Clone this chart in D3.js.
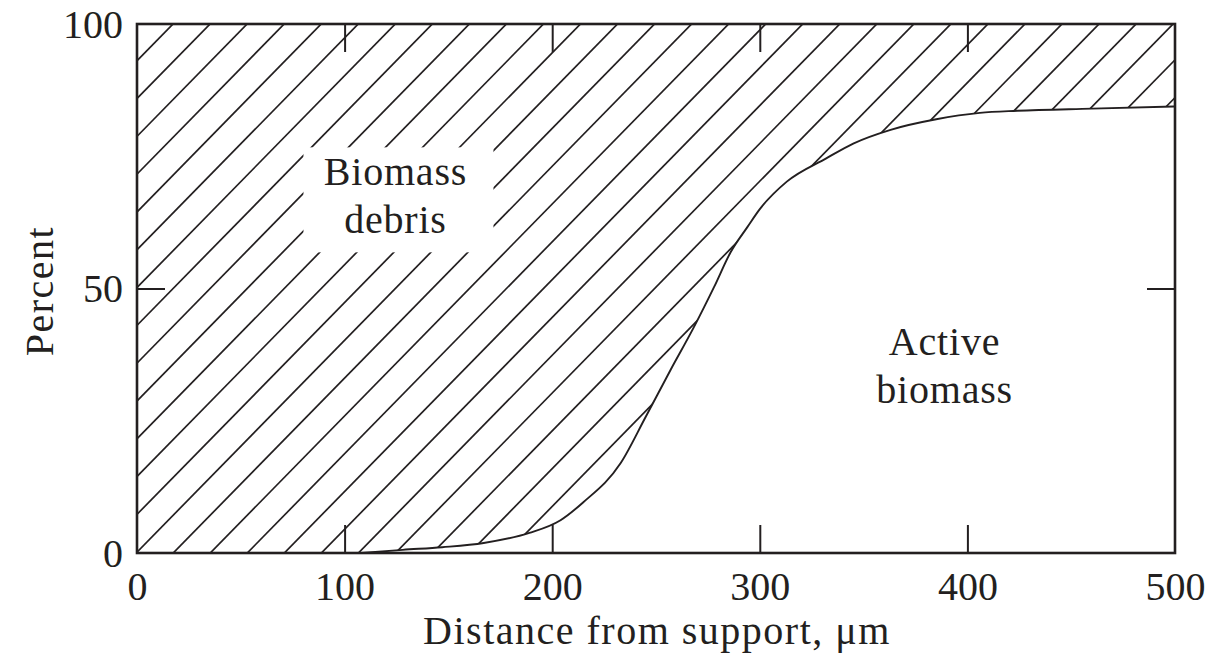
<!DOCTYPE html>
<html>
<head>
<meta charset="utf-8">
<script src="https://cdn.jsdelivr.net/npm/d3@7"></script>
<style>
  html, body { margin: 0; padding: 0; background: #fff; }
  svg { display: block; }
  text { font-family: "Liberation Serif", "Times New Roman", serif; fill: #231f20; }
</style>
</head>
<body>
<div id="chart"></div>
<script>
// boundary between biomass debris (above) and active biomass (below), percent
const distance = [108, 128, 147, 167, 189, 204, 215, 233, 245, 257, 268, 278, 286, 294, 300, 313, 332, 345, 363, 385, 406, 424, 460, 500];
const activePct = [0, 0.6, 1.1, 1.9, 3.8, 6.2, 9.6, 17, 25.7, 34.6, 42.5, 50.3, 56.9, 61.6, 65, 70.2, 74.6, 77.4, 80, 82, 83.2, 83.6, 84, 84.4];

const xTicks = [0, 100, 200, 300, 400, 500];
const yTicks = [0, 50, 100];
const innerXTicks = [100, 200, 300, 400];
const innerYTicks = [50];

const labels = [
    { lines: ['Biomass', 'debris'], x: 124.5, y: 69.5, box: true },
    { lines: ['Active', 'biomass'], x: 389, y: 37.5, box: false }
];

const W = 1229, H = 653;
const M = { top: 24, right: 54, bottom: 100, left: 137 };
const iW = W - M.left - M.right;
const iH = H - M.top - M.bottom;
const INK = '#231f20';
const FONT = 40;
const TICK = 28;

const x = d3.scaleLinear().domain([0, 500]).range([0, iW]);
const y = d3.scaleLinear().domain([0, 100]).range([iH, 0]);

const svg = d3.select('#chart').append('svg')
    .attr('width', W)
    .attr('height', H);

const g = svg.append('g').attr('transform', `translate(${M.left},${M.top})`);

// ── hatched debris region ───────────────────────────────────────────────────

const pts = [{ d: 0, p: 0 }].concat(distance.map((d, i) => ({ d, p: activePct[i] })));

const area = d3.area()
    .x(d => x(d.d))
    .y0(d => y(d.p))
    .y1(y(100))
    .curve(d3.curveMonotoneX);

svg.append('defs').append('clipPath')
    .attr('id', 'debrisClip')
    .append('path')
    .datum(pts)
    .attr('d', area);

// hatch lines: x/hx + y/hy = phase + k (in page pixels)
const hx = 37.04, hy = 37.8, phase = 0.306;
const hatch = g.append('g').attr('clip-path', 'url(#debrisClip)');
d3.range(-2, 50).forEach(k => {
    const c = phase + k;
    const y0 = -M.top, y1 = iH + 10;
    const px0 = (c - (y0 + M.top) / hy) * hx - M.left;
    const px1 = (c - (y1 + M.top) / hy) * hx - M.left;
    hatch.append('line')
        .attr('x1', px0).attr('y1', y0)
        .attr('x2', px1).attr('y2', y1)
        .attr('stroke', INK)
        .attr('stroke-width', 1.7);
});

// boundary curve
const line = d3.line()
    .x(d => x(d.d))
    .y(d => y(d.p))
    .curve(d3.curveMonotoneX);

g.append('path')
    .datum(pts.slice(1))
    .attr('fill', 'none')
    .attr('stroke', INK)
    .attr('stroke-width', 1.9)
    .attr('d', line);

// ── region labels ───────────────────────────────────────────────────────────

labels.forEach(l => {
    const cx = x(l.x), cy = y(l.y);
    if (l.box) {
        g.append('rect')
            .attr('x', cx - 92)
            .attr('y', cy - 38)
            .attr('width', 190)
            .attr('height', 105)
            .attr('fill', '#fff');
    }
    const t = g.append('text')
        .attr('text-anchor', 'middle')
        .attr('font-size', FONT)
        .attr('letter-spacing', '0.8px');
    l.lines.forEach((s, i) => {
        t.append('tspan')
            .attr('x', cx)
            .attr('y', cy + i * 48)
            .text(s);
    });
});

// ── axes ────────────────────────────────────────────────────────────────────

function styleAxis(sel) {
    sel.select('.domain').remove();
    sel.selectAll('.tick line').attr('stroke', INK).attr('stroke-width', 2);
    sel.selectAll('.tick text')
        .attr('font-family', '"Liberation Serif", serif')
        .attr('font-size', FONT)
        .attr('fill', INK);
}

const xAxis = g.append('g')
    .attr('transform', `translate(0,${iH})`)
    .call(d3.axisBottom(x).tickValues(xTicks).tickSize(-TICK).tickFormat(d3.format('d')))
    .call(styleAxis);
xAxis.selectAll('.tick text').attr('y', 47).attr('dy', 0);
xAxis.selectAll('.tick line').filter(d => !innerXTicks.includes(d)).remove();

g.append('g')
    .call(d3.axisTop(x).tickValues(innerXTicks).tickSize(-TICK).tickFormat(''))
    .call(styleAxis);

const yAxis = g.append('g')
    .call(d3.axisLeft(y).tickValues(yTicks).tickSize(-TICK).tickFormat(d3.format('d')))
    .call(styleAxis);
yAxis.selectAll('.tick text').attr('x', -14).attr('dy', '0.33em');
yAxis.selectAll('.tick line').filter(d => !innerYTicks.includes(d)).remove();

g.append('g')
    .attr('transform', `translate(${iW},0)`)
    .call(d3.axisRight(y).tickValues(innerYTicks).tickSize(-TICK).tickFormat(''))
    .call(styleAxis);

// frame
g.append('rect')
    .attr('width', iW)
    .attr('height', iH)
    .attr('fill', 'none')
    .attr('stroke', INK)
    .attr('stroke-width', 2.6);

// axis titles
g.append('text')
    .attr('x', (422 + 892) / 2 - M.left)
    .attr('y', iH + 91)
    .attr('text-anchor', 'middle')
    .attr('font-size', FONT)
    .attr('letter-spacing', '1.5px')
    .text('Distance from support, μm');

g.append('text')
    .attr('transform', `translate(${53 - M.left},${291 - M.top}) rotate(-90)`)
    .attr('text-anchor', 'middle')
    .attr('font-size', FONT)
    .attr('letter-spacing', '1.5px')
    .text('Percent');
</script>
</body>
</html>
